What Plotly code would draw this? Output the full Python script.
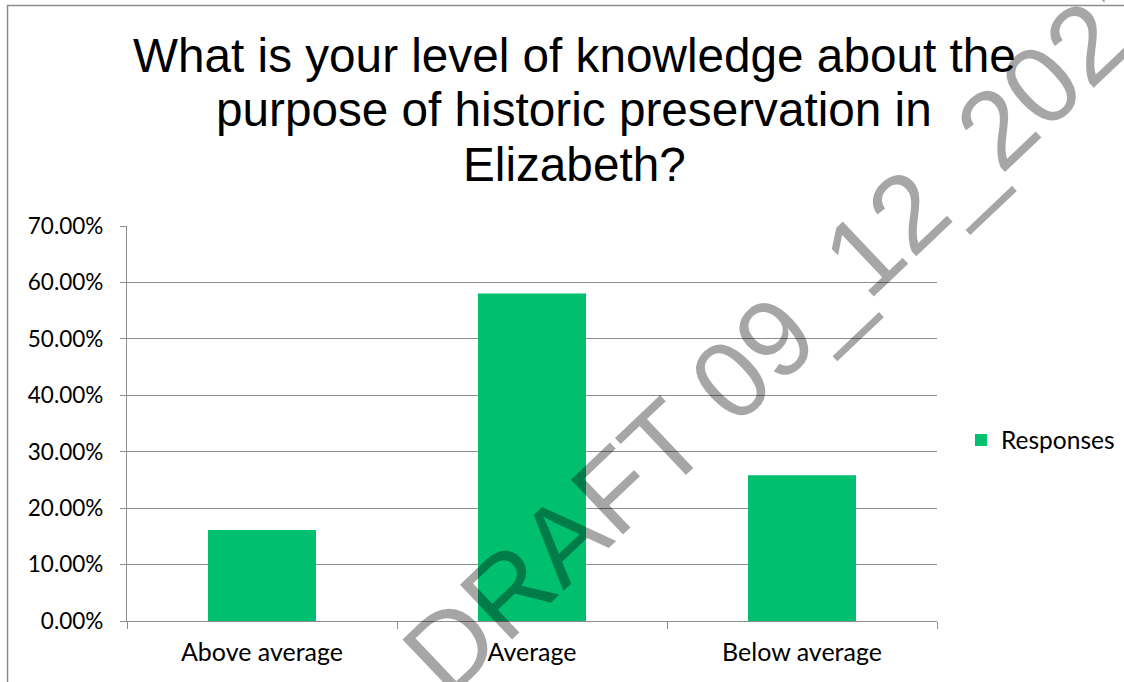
import plotly.graph_objects as go

# ---- data ----
categories = ["Above average", "Average", "Below average"]
responses = [0.1613, 0.5806, 0.2581]
series_name = "Responses"
title_lines = [
    "What is your level of knowledge about the",
    "purpose of historic preservation in",
    "Elizabeth?",
]
watermark_text = "DRAFT 09_12_2021"

# ---- layout geometry ----
W, H = 1124, 682
L, R, T, B = 127, 187, 226, 61
pw, ph = W - L - R, H - T - B

def px_x(x):
    return (x - L) / pw

def px_y(y):
    return (H - B - y) / ph

GRID = "#8c8c8c"
GREEN = "#00BF6F"
FONT = "Lato, Carlito, sans-serif"
XFONT = dict(family=FONT, size=25, color="#000000")
YFONT = dict(family=FONT, size=22.5, color="#000000")
LFONT = dict(family=FONT, size=24.5, color="#000000")

fig = go.Figure()
fig.add_trace(go.Bar(
    x=categories, y=responses, name=series_name,
    marker=dict(color=GREEN, line=dict(width=0)),
    showlegend=True,
))

annotations = []
title_y = [55.7, 109.7, 164.7]
for line, yy in zip(title_lines, title_y):
    annotations.append(dict(
        text=line, xref="paper", yref="paper", x=px_x(574), y=px_y(yy),
        xanchor="center", yanchor="middle", showarrow=False,
        font=dict(family="Liberation Sans, Arial, sans-serif", size=47.7, color="#000000"),
    ))

annotations.append(dict(
    text=watermark_text, xref="paper", yref="paper", x=px_x(786), y=px_y(326),
    xanchor="center", yanchor="middle", showarrow=False, textangle=-43.5,
    font=dict(family="Liberation Sans, Arial, sans-serif", size=110,
              color="rgba(0,0,0,0.35)"),
))

fig.update_layout(
    width=W, height=H,
    margin=dict(l=L, r=R, t=T, b=B, pad=0, autoexpand=False),
    paper_bgcolor="white", plot_bgcolor="white",
    bargap=0.6,
    showlegend=True,
    legend=dict(
        x=px_x(961), y=px_y(440), xanchor="left", yanchor="middle",
        font=LFONT, bgcolor="rgba(0,0,0,0)",
    ),
    xaxis=dict(
        showline=True, linecolor=GRID, linewidth=1.3,
        ticks="outside", tickson="boundaries", ticklen=7, tickcolor=GRID, tickwidth=1.3,
        tickfont=XFONT, showgrid=False, ticklabelstandoff=9,
    ),
    yaxis=dict(
        range=[0, 0.7], dtick=0.1, tick0=0, tickformat=".2%",
        showline=True, linecolor=GRID, linewidth=1.3,
        ticks="outside", ticklen=6, tickcolor=GRID, tickwidth=1.3,
        showgrid=True, gridcolor=GRID, gridwidth=1.3, zeroline=False,
        tickfont=YFONT, ticklabelstandoff=12,
    ),
    annotations=annotations,
    shapes=[dict(
        type="rect", xref="paper", yref="paper",
        x0=px_x(7.5), x1=px_x(W + 20), y0=px_y(H + 20), y1=px_y(5.5),
        line=dict(color=GRID, width=1.5), fillcolor="rgba(0,0,0,0)", layer="below",
    )],
)

fig.write_html(
    "out.html",
    config={"displayModeBar": False},
    post_script="document.body.style.margin='0';document.body.style.overflow='hidden';",
)
